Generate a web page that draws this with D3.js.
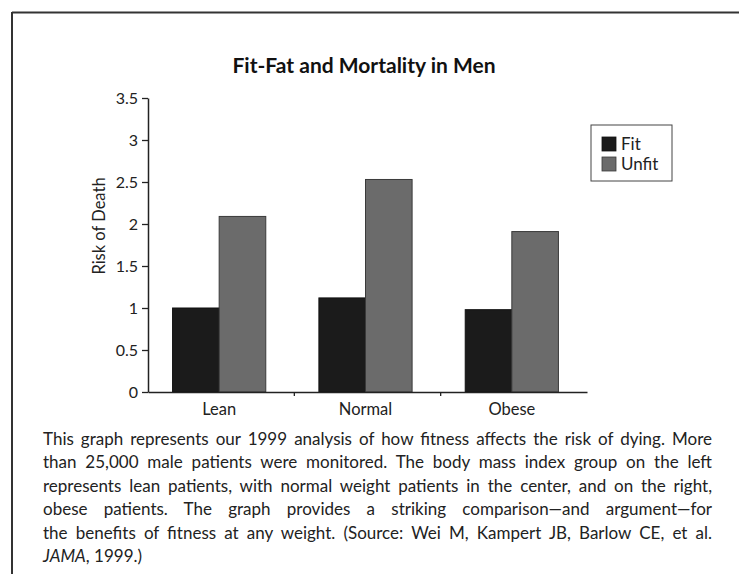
<!DOCTYPE html>
<html><head><meta charset="utf-8">
<script src="https://cdn.jsdelivr.net/npm/d3@7/dist/d3.min.js"></script>
<style>
html,body{margin:0;padding:0;background:#fff;}
svg{display:block;}
</style></head>
<body>
<svg id="chart" width="739" height="574"></svg>
<script>
const categories = ["Lean", "Normal", "Obese"];
const seriesNames = ["Fit", "Unfit"];
const fitValues = [1.0, 1.12, 0.98];
const unfitValues = [2.09, 2.53, 1.91];
const yTicks = [0, 0.5, 1, 1.5, 2, 2.5, 3, 3.5];
const yTickLabels = ["0", "0.5", "1", "1.5", "2", "2.5", "3", "3.5"];
const titleText = "Fit-Fat and Mortality in Men";
const yLabel = "Risk of Death";
const captionLines = [
  "This graph represents our 1999 analysis of how fitness affects the risk of dying. More",
  "than 25,000 male patients were monitored. The body mass index group on the left",
  "represents lean patients, with normal weight patients in the center, and on the right,",
  "obese patients. The graph provides a striking comparison\u2014and argument\u2014for",
  "the benefits of fitness at any weight. (Source: Wei M, Kampert JB, Barlow CE, et al."
];
const captionLastItalic = "JAMA";
const captionLastRest = ", 1999.)";

(function () {
const colors = {Fit: "#1b1b1b", Unfit: "#6b6b6b"};
const strokes = {Fit: "#111", Unfit: "#3a3a3a"};
const font = "Lato, 'Open Sans', 'DejaVu Sans', sans-serif";
const txt = "#222";

const svg = d3.select("#chart");

// page border (top and left)
svg.append("line").attr("x1", 12).attr("y1", 12.5).attr("x2", 739).attr("y2", 12.5)
  .attr("stroke", "#333").attr("stroke-width", 2);
svg.append("line").attr("x1", 12).attr("y1", 12).attr("x2", 12).attr("y2", 574)
  .attr("stroke", "#333").attr("stroke-width", 2);

// title
svg.append("text").attr("x", 364).attr("y", 73).attr("text-anchor", "middle")
  .attr("font-family", font).attr("font-weight", "bold")
  .attr("font-size", 21).attr("fill", "#111").text(titleText);

const pL = 148, pR = 587, pT = 98, pB = 392;
const y = d3.scaleLinear().domain([0, 3.5]).range([pB, pT]);
const x0 = d3.scaleBand().domain(categories).range([pL, pR]).padding(0);
const x1 = d3.scaleBand().domain(seriesNames).range([0, x0.bandwidth()])
  .paddingInner(0).paddingOuter(0.57);

const data = categories.map((c, i) => ({cat: c, Fit: fitValues[i], Unfit: unfitValues[i]}));

// bars
const g = svg.append("g");
const groups = g.selectAll("g.grp").data(data).join("g")
  .attr("transform", d => `translate(${x0(d.cat) - 2},0)`);
groups.selectAll("rect").data(d => seriesNames.map(s => ({s, v: d[s]}))).join("rect")
  .attr("x", d => x1(d.s))
  .attr("y", d => y(d.v))
  .attr("width", x1.bandwidth())
  .attr("height", d => y(0) - y(d.v))
  .attr("fill", d => colors[d.s])
  .attr("stroke", d => strokes[d.s])
  .attr("stroke-width", 1);

// y axis
const yAxis = d3.axisLeft(y).tickValues(yTicks)
  .tickFormat((d, i) => yTickLabels[i]).tickSize(6).tickSizeOuter(0).tickPadding(4);
const yg = svg.append("g").attr("transform", `translate(${pL},0)`).call(yAxis);
yg.select(".domain").attr("stroke", "#222").attr("stroke-width", 1.5);
yg.selectAll(".tick line").attr("stroke", "#222").attr("stroke-width", 1.3);
yg.selectAll(".tick text").attr("font-family", font).attr("font-size", 16).attr("fill", txt);

// x axis
const xAxis = d3.axisBottom(x0).tickSize(0).tickSizeOuter(0).tickPadding(10);
const xg = svg.append("g").attr("transform", `translate(0,${pB})`).call(xAxis);
xg.select(".domain").attr("stroke", "#222").attr("stroke-width", 1.5);
xg.selectAll(".tick text").attr("font-family", font).attr("font-size", 16.5).attr("fill", txt)
  .attr("dx", -2).attr("dy", "0.8em");
xg.selectAll("line.bnd").data(categories.slice(1)).join("line").attr("class", "bnd")
  .attr("x1", d => x0(d)).attr("x2", d => x0(d)).attr("y1", 0).attr("y2", 4)
  .attr("stroke", "#222").attr("stroke-width", 1.3);

// y label
svg.append("text").attr("transform", "translate(105,226) rotate(-90)")
  .attr("text-anchor", "middle").attr("font-family", font).attr("font-size", 16.5)
  .attr("fill", txt).text(yLabel);

// legend
const lg = svg.append("g").attr("transform", "translate(591,125)");
lg.append("rect").attr("x", 0).attr("y", 0).attr("width", 81).attr("height", 56)
  .attr("fill", "#fff").attr("stroke", "#444").attr("stroke-width", 1);
seriesNames.forEach((s, i) => {
  lg.append("rect").attr("x", 11).attr("y", 12 + i * 20).attr("width", 14).attr("height", 14)
    .attr("fill", colors[s]).attr("stroke", strokes[s]).attr("stroke-width", 0.8);
  lg.append("text").attr("x", 30).attr("y", 25 + i * 20).attr("font-family", font)
    .attr("font-size", 17).attr("fill", txt).text(s);
});

// caption (justified)
const capLeft = 43, capRight = 712, capY0 = 445, capDy = 23.4;
captionLines.forEach((line, i) => {
  const t = svg.append("text").attr("x", capLeft).attr("y", capY0 + i * capDy)
    .attr("font-family", font).attr("font-size", 17).attr("fill", txt).text(line);
  const w = t.node().getComputedTextLength();
  const spaces = (line.match(/ /g) || []).length;
  if (spaces > 0) t.attr("word-spacing", (capRight - capLeft - w) / spaces);
});
const last = svg.append("text").attr("x", capLeft).attr("y", capY0 + captionLines.length * capDy)
  .attr("font-family", font).attr("font-size", 17).attr("fill", txt);
last.append("tspan").attr("font-style", "italic").text(captionLastItalic);
last.append("tspan").text(captionLastRest);
})();
</script>
</body></html>
